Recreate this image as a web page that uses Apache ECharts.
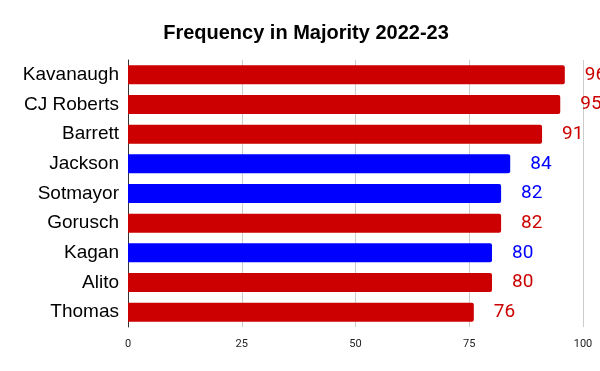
<!DOCTYPE html>
<html><head><meta charset="utf-8">
<script src="https://cdn.jsdelivr.net/npm/echarts@6/dist/echarts.min.js"></script>
<style>html,body{margin:0;padding:0;background:#fff}#c{width:600px;height:371px}</style>
</head><body><div id="c"></div>
<script>
const categories = ["Kavanaugh","CJ Roberts","Barrett","Jackson","Sotmayor","Gorusch","Kagan","Alito","Thomas"];
const values = [96,95,91,84,82,82,80,80,76];
const parties = ["R","R","R","D","D","R","D","R","R"];
const xTicks = [0,25,50,75,100];
const colors = {R:"#cc0000", D:"#0000ff"};

const chart = echarts.init(document.getElementById('c'));
chart.setOption({
  animation:false,
  title:{text:"Frequency in Majority 2022-23",left:301,textAlign:'center',top:18,
    textStyle:{fontFamily:"Liberation Sans",fontSize:20,fontWeight:'bold',color:'#000'}},
  grid:{left:128,right:17,top:60,bottom:44,containLabel:false},
  xAxis:{type:'value',min:0,max:100,interval:25,
    axisLine:{show:false},axisTick:{show:false},
    splitLine:{lineStyle:{color:'#cccccc',width:1}},
    axisLabel:{fontFamily:"Roboto",fontSize:11,color:'#222',margin:12,
      formatter:v=>xTicks.includes(v)?String(v):''}},
  yAxis:{type:'category',data:categories,inverse:true,
    axisLine:{show:true,lineStyle:{color:'#333',width:1}},axisTick:{show:false},
    axisLabel:{fontFamily:"Liberation Sans",fontSize:19,color:'#000',margin:9}},
  series:[{type:'bar',barWidth:19,
    data:values.map((v,i)=>({value:v,itemStyle:{color:colors[parties[i]]},
      label:{color:colors[parties[i]]}})),
    itemStyle:{borderRadius:[0,2,2,0]},
    label:{show:true,position:'right',distance:20,fontFamily:"Roboto",fontSize:19}
  }]
});
</script></body></html>
